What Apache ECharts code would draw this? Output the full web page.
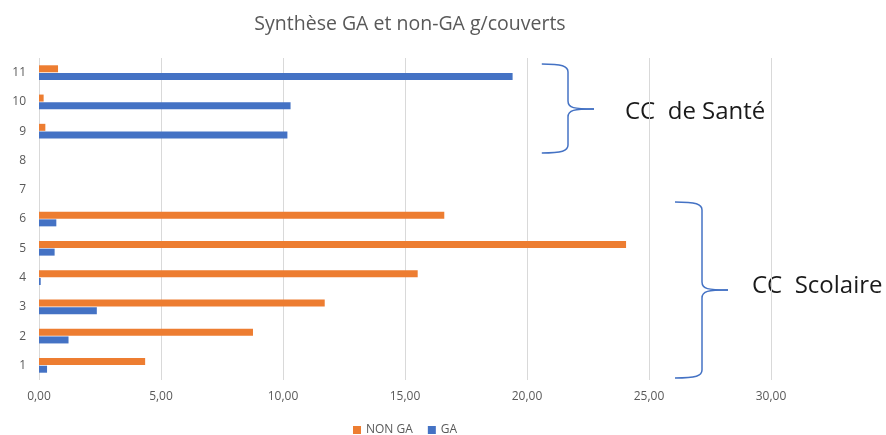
<!DOCTYPE html>
<html>
<head>
<meta charset="utf-8">
<script src="https://cdn.jsdelivr.net/npm/echarts@6/dist/echarts.min.js"></script>
<style>
html,body{margin:0;padding:0;background:#fff;}
#chart{width:886px;height:435px;}
</style>
</head>
<body>
<div id="chart"></div>
<script>
var categories = ['1','2','3','4','5','6','7','8','9','10','11'];
var nonGA = [4.35, 8.77, 11.71, 15.52, 24.06, 16.61, 0, 0, 0.26, 0.19, 0.78];
var GA = [0.33, 1.21, 2.37, 0.07, 0.64, 0.71, 0, 0, 10.18, 10.31, 19.41];
var xTicks = { min: 0, max: 30, interval: 5 };
var titleText = 'Synthèse GA et non-GA g/couverts';
var groupLabels = ['CC  de Santé', 'CC  Scolaire'];

var FONT = 'Open Sans';
var GRAY = '#595959';
var BRACE = '#4472C4';

function brace(xl, xv, xt, yTop, yMid, yBot) {
  var st = { stroke: BRACE, lineWidth: 1.5, fill: null };
  var r = 8;
  return [
    { type: 'bezierCurve', shape: { x1: xl, y1: yTop, cpx1: xv - 6, cpy1: yTop, cpx2: xv, cpy2: yTop + 2, x2: xv, y2: yTop + r }, style: st },
    { type: 'line', shape: { x1: xv, y1: yTop + r, x2: xv, y2: yMid - r }, style: st },
    { type: 'bezierCurve', shape: { x1: xv, y1: yMid - r, cpx1: xv, cpy1: yMid - 1, cpx2: xv + 6, cpy2: yMid, x2: xt, y2: yMid }, style: st },
    { type: 'bezierCurve', shape: { x1: xt, y1: yMid, cpx1: xv + 6, cpy1: yMid, cpx2: xv, cpy2: yMid + 1, x2: xv, y2: yMid + r }, style: st },
    { type: 'line', shape: { x1: xv, y1: yMid + r, x2: xv, y2: yBot - r }, style: st },
    { type: 'bezierCurve', shape: { x1: xv, y1: yBot - r, cpx1: xv, cpy1: yBot - 2, cpx2: xv - 6, cpy2: yBot, x2: xl, y2: yBot }, style: st }
  ];
}

var chart = echarts.init(document.getElementById('chart'), null, {renderer: 'canvas'});
var graphics = []
  .concat(brace(541.8, 568, 594, 64, 109, 153))
  .concat(brace(675, 702, 728, 202, 290, 378))
  .concat([
    { type: 'text', left: 625, top: 100,
      style: { text: groupLabels[0], font: '24px "Open Sans"', fill: '#1a1a1a' } },
    { type: 'text', left: 752, top: 274,
      style: { text: groupLabels[1], font: '24px "Open Sans"', fill: '#1a1a1a' } }
  ]);

var option = {
  animation: false,
  backgroundColor: '#ffffff',
  title: {
    text: titleText,
    left: 405, top: 9, textAlign: 'center',
    textStyle: { fontFamily: FONT, fontSize: 19.5, fontWeight: 'normal', color: GRAY }
  },
  legend: {
    data: ['NON GA', 'GA'],
    left: 348, top: 419,
    icon: 'rect', itemWidth: 8, itemHeight: 8, itemGap: 15,
    textStyle: { fontFamily: FONT, fontSize: 12, color: GRAY }
  },
  grid: { left: 39, right: 115, top: 58, bottom: 55, containLabel: false },
  xAxis: {
    type: 'value', min: xTicks.min, max: xTicks.max, interval: xTicks.interval,
    axisLine: { show: false }, axisTick: { show: false },
    splitLine: { show: true, lineStyle: { color: '#d9d9d9', width: 1 } },
    axisLabel: {
      margin: 11, fontFamily: FONT, fontSize: 12, color: GRAY,
      formatter: function (v) { return v.toFixed(2).replace('.', ','); }
    }
  },
  yAxis: {
    type: 'category', data: categories,
    axisLine: { show: false }, axisTick: { show: false },
    axisLabel: { margin: 13, fontFamily: FONT, fontSize: 12, color: GRAY }
  },
  series: [
    { name: 'NON GA', type: 'bar', data: nonGA, barWidth: 7, barGap: '10%',
      itemStyle: { color: '#ED7D31' } },
    { name: 'GA', type: 'bar', data: GA, barWidth: 7, barGap: '10%',
      itemStyle: { color: '#4472C4' } }
  ],
  graphic: graphics
};
chart.setOption(option);
</script>
</body>
</html>
